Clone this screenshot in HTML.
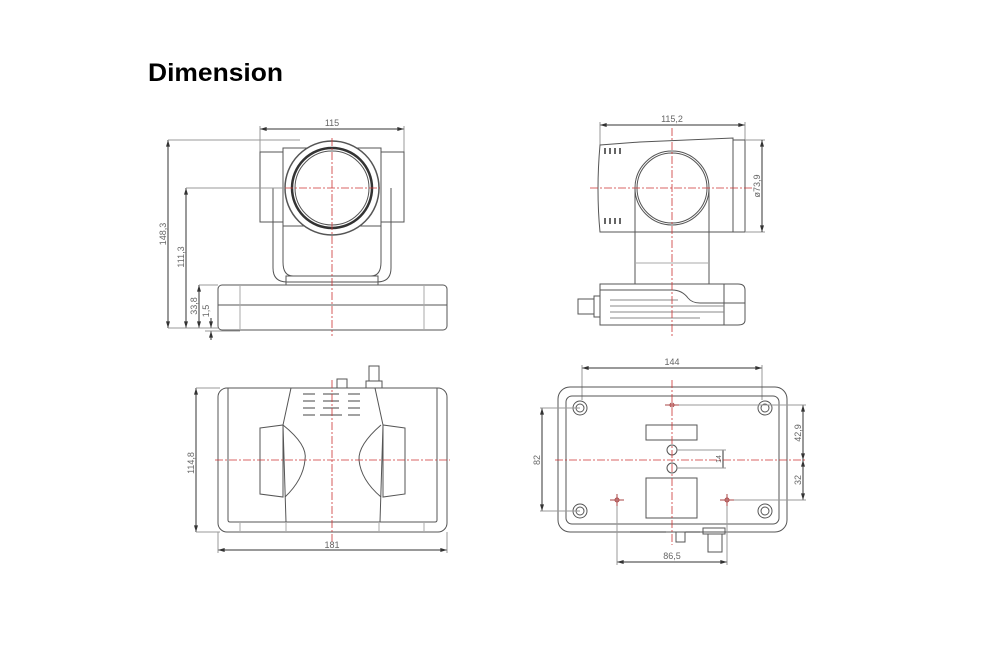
<!DOCTYPE html>
<html><head><meta charset="utf-8"><style>
body{margin:0;background:#fff;width:986px;height:645px;overflow:hidden}
svg{position:absolute;left:0;top:0}
.t{font-family:"Liberation Sans",sans-serif;font-size:9px;fill:#666}
</style></head><body>
<svg width="986" height="645" viewBox="0 0 986 645">
<defs>
<marker id="a" viewBox="0 0 10 6" refX="10" refY="3" markerWidth="7" markerHeight="4" orient="auto-start-reverse"><path d="M0,0L10,3L0,6z" fill="#333"/></marker>
</defs>
<text x="148" y="81" font-family="Liberation Sans,sans-serif" font-weight="bold" font-size="25" textLength="135" lengthAdjust="spacingAndGlyphs" fill="#000">Dimension</text>

<g fill="none" stroke="#555" stroke-width="1">
<!-- TOP LEFT -->
<line x1="260" y1="129" x2="404" y2="129" marker-start="url(#a)" marker-end="url(#a)" stroke="#333"/>
<line x1="260" y1="126" x2="260" y2="152" stroke="#999"/><line x1="404" y1="126" x2="404" y2="152" stroke="#999"/>
<rect x="260" y="152" width="23" height="70"/><rect x="381" y="152" width="23" height="70"/>
<rect x="283" y="148" width="98" height="78"/>
<path d="M273,188 V268 Q273,282 287,282 H377 Q391,282 391,268 V188"/>
<path d="M283,188 V262 Q283,276 293,276 H371 Q381,276 381,262 V188"/>
<rect x="286" y="276" width="92" height="9"/>
<circle cx="332" cy="188" r="47" fill="#fff" stroke-width="1.5"/>
<circle cx="332" cy="188" r="40" stroke-width="2.5" stroke="#333"/>
<circle cx="332" cy="188" r="37"/>
<rect x="218" y="285" width="229" height="45" rx="4"/>
<line x1="218" y1="305" x2="447" y2="305"/>
<line x1="240" y1="285" x2="240" y2="330" stroke="#aaa"/><line x1="424" y1="285" x2="424" y2="330" stroke="#aaa"/>
<line x1="168" y1="140" x2="168" y2="328" marker-start="url(#a)" marker-end="url(#a)" stroke="#333"/>
<line x1="168" y1="140" x2="300" y2="140" stroke="#999"/>
<line x1="186" y1="188" x2="186" y2="328" marker-start="url(#a)" marker-end="url(#a)" stroke="#333"/>
<line x1="186" y1="188" x2="285" y2="188" stroke="#999"/>
<line x1="199" y1="285" x2="199" y2="328" marker-start="url(#a)" marker-end="url(#a)" stroke="#333"/>
<line x1="199" y1="285" x2="218" y2="285" stroke="#999"/>
<line x1="211" y1="318" x2="211" y2="328" marker-end="url(#a)" stroke="#333"/>
<line x1="211" y1="340" x2="211" y2="331" marker-end="url(#a)" stroke="#333"/>
<line x1="168" y1="328" x2="218" y2="328" stroke="#999"/><line x1="205" y1="331" x2="240" y2="331" stroke="#999"/>

<!-- TOP RIGHT -->
<line x1="600" y1="125" x2="745" y2="125" marker-start="url(#a)" marker-end="url(#a)" stroke="#333"/>
<line x1="600" y1="122" x2="600" y2="145" stroke="#999"/><line x1="745" y1="122" x2="745" y2="140" stroke="#999"/>
<path d="M600,145 L640,142 L733,138 V232 L600,232 Q596,190 600,145z"/>
<rect x="733" y="140" width="12" height="92"/>
<line x1="745" y1="140" x2="765" y2="140" stroke="#999"/><line x1="745" y1="232" x2="765" y2="232" stroke="#999"/>
<line x1="762" y1="140" x2="762" y2="232" marker-start="url(#a)" marker-end="url(#a)" stroke="#333"/>
<path d="M635,188 V284 M709,188 V284"/>
<line x1="635" y1="263" x2="709" y2="263" stroke="#aaa"/>
<circle cx="672" cy="188" r="37" fill="#fff"/><circle cx="672" cy="188" r="35"/>
<g stroke="#333" stroke-width="1.5">
<path d="M605,148v6M610,148v6M615,148v6M620,148v6M605,218v6M610,218v6M615,218v6M620,218v6"/>
</g>
<path d="M600,284 H738 Q745,284 745,290 V320 Q745,325 738,325 H600z"/>
<path d="M600,290 H672 Q682,290 688,298 Q692,303 700,303 H745" />
<line x1="724" y1="284" x2="724" y2="325"/>
<path d="M610,300H678M610,306H724M610,312H724M610,318H700" stroke="#888"/>
<rect x="578" y="299" width="16" height="15"/><rect x="594" y="296" width="6" height="21"/>

<!-- BOTTOM LEFT -->
<rect x="218" y="388" width="229" height="144" rx="9"/>
<path d="M228,388 V520 Q228,522 230,522 H435 Q437,522 437,520 V388"/>
<path d="M240,522V532M286,522V532M379,522V532M424,522V532" stroke="#aaa"/>
<path d="M291,388 L283,425 L286,522 M375,388 L383,425 L380,522"/>
<path d="M260,428 L283,425 L283,497 L260,494z"/>
<path d="M283,425 Q308,445 305,460 Q303,480 285,497"/>
<path d="M405,428 L383,425 L383,497 L405,494z"/>
<path d="M381,425 Q358,445 359,460 Q361,480 381,497"/>
<g stroke="#444">
<path d="M303,394h12M323,394h16M348,394h12M303,401h12M323,401h16M348,401h12M303,408h12M323,408h16M348,408h12M303,415h12M320,415h22M348,415h12"/>
</g>
<rect x="337" y="379" width="10" height="9"/>
<rect x="366" y="381" width="16" height="7"/><rect x="369" y="366" width="10" height="15"/>
<line x1="196" y1="388" x2="196" y2="532" marker-start="url(#a)" marker-end="url(#a)" stroke="#333"/>
<line x1="196" y1="388" x2="220" y2="388" stroke="#999"/><line x1="196" y1="532" x2="220" y2="532" stroke="#999"/>
<line x1="218" y1="550" x2="447" y2="550" marker-start="url(#a)" marker-end="url(#a)" stroke="#333"/>
<line x1="218" y1="532" x2="218" y2="553" stroke="#999"/><line x1="447" y1="532" x2="447" y2="553" stroke="#999"/>

<!-- BOTTOM RIGHT -->
<line x1="582" y1="368" x2="762" y2="368" marker-start="url(#a)" marker-end="url(#a)" stroke="#333"/>
<line x1="582" y1="365" x2="582" y2="400" stroke="#999"/><line x1="762" y1="365" x2="762" y2="400" stroke="#999"/>
<rect x="558" y="387" width="229" height="145" rx="12"/>
<rect x="566" y="396" width="213" height="128" rx="6"/>
<g>
<circle cx="580" cy="408" r="7"/><circle cx="580" cy="408" r="4"/>
<circle cx="765" cy="408" r="7"/><circle cx="765" cy="408" r="4"/>
<circle cx="580" cy="511" r="7"/><circle cx="580" cy="511" r="4"/>
<circle cx="765" cy="511" r="7"/><circle cx="765" cy="511" r="4"/>
</g>
<rect x="646" y="425" width="51" height="15"/><rect x="646" y="478" width="51" height="40"/>
<circle cx="672" cy="450" r="5"/><circle cx="672" cy="468" r="5"/>
<line x1="542" y1="408" x2="542" y2="511" marker-start="url(#a)" marker-end="url(#a)" stroke="#333"/>
<line x1="540" y1="408" x2="580" y2="408" stroke="#999"/><line x1="540" y1="511" x2="580" y2="511" stroke="#999"/>
<line x1="803" y1="405" x2="803" y2="460" marker-start="url(#a)" marker-end="url(#a)" stroke="#333"/>
<line x1="803" y1="460" x2="803" y2="500" marker-start="url(#a)" marker-end="url(#a)" stroke="#333"/>
<line x1="677" y1="405" x2="806" y2="405" stroke="#999"/><line x1="730" y1="500" x2="806" y2="500" stroke="#999"/>
<line x1="723" y1="450" x2="723" y2="468" stroke="#333"/>
<line x1="677" y1="450" x2="726" y2="450" stroke="#999"/><line x1="677" y1="468" x2="726" y2="468" stroke="#999"/>
<line x1="617" y1="562" x2="727" y2="562" marker-start="url(#a)" marker-end="url(#a)" stroke="#333"/>
<line x1="617" y1="500" x2="617" y2="565" stroke="#999"/><line x1="727" y1="500" x2="727" y2="565" stroke="#999"/>
<path d="M630,532H666M680,532H700" stroke="#333"/>
<rect x="676" y="532" width="9" height="10"/>
<rect x="703" y="528" width="22" height="6"/><rect x="708" y="534" width="14" height="18"/>
</g>

<!-- red center lines -->
<g stroke="#c33" stroke-width="0.8" stroke-dasharray="8,2,2,2" fill="none">
<line x1="332" y1="138" x2="332" y2="336"/><line x1="285" y1="188" x2="380" y2="188"/>
<line x1="672" y1="128" x2="672" y2="336"/><line x1="590" y1="188" x2="752" y2="188"/>
<line x1="332" y1="380" x2="332" y2="545"/><line x1="215" y1="460" x2="450" y2="460"/>
<line x1="672" y1="380" x2="672" y2="545"/><line x1="555" y1="460" x2="805" y2="460"/>
</g>
<g fill="none" stroke="#a44" stroke-width="1">
<circle cx="672" cy="405" r="2"/><circle cx="617" cy="500" r="2"/><circle cx="727" cy="500" r="2"/>
<path d="M665,405h14M610,500h14M720,500h14M617,494v12M727,494v12"/>
</g>

<!-- labels -->
<text class="t" x="332" y="126" text-anchor="middle">115</text>
<text class="t" transform="translate(166,234) rotate(-90)" text-anchor="middle">148,3</text>
<text class="t" transform="translate(184,257) rotate(-90)" text-anchor="middle">111,3</text>
<text class="t" transform="translate(197,306) rotate(-90)" text-anchor="middle">33,8</text>
<text class="t" transform="translate(209,311) rotate(-90)" text-anchor="middle">1,5</text>
<text class="t" x="672" y="122" text-anchor="middle">115,2</text>
<text class="t" transform="translate(760,186) rotate(-90)" text-anchor="middle">ø73,9</text>
<text class="t" transform="translate(194,463) rotate(-90)" text-anchor="middle">114,8</text>
<text class="t" x="332" y="548" text-anchor="middle">181</text>
<text class="t" x="672" y="365" text-anchor="middle">144</text>
<text class="t" transform="translate(540,460) rotate(-90)" text-anchor="middle">82</text>
<text class="t" transform="translate(801,433) rotate(-90)" text-anchor="middle">42,9</text>
<text class="t" transform="translate(801,480) rotate(-90)" text-anchor="middle">32</text>
<text class="t" transform="translate(721,459) rotate(-90)" text-anchor="middle" style="font-size:7px">14</text>
<text class="t" x="672" y="559" text-anchor="middle">86,5</text>
</svg>
</body></html>
